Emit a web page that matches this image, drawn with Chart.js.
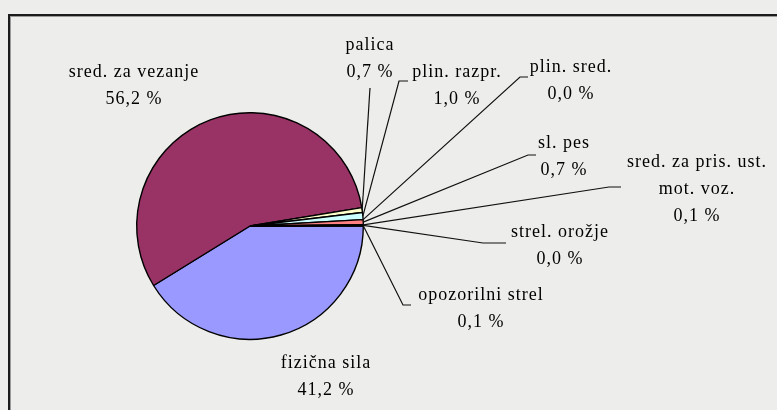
<!DOCTYPE html>
<html>
<head>
<meta charset="utf-8">
<script src="https://cdn.jsdelivr.net/npm/chart.js@4"></script>
<style>
  html, body { margin: 0; padding: 0; background: #ededeb; overflow: hidden; }
  #frame {
    position: absolute; left: 8px; top: 14px; width: 800px; height: 420px;
    border-top: 2px solid #1b1b1b; border-left: 2px solid #1b1b1b;
    box-shadow: inset 1px 1px 0 #9a9a9a;
  }
  #chart { position: absolute; left: 0; top: 0; }
</style>
</head>
<body>
<div id="frame"></div>
<canvas id="chart" width="777" height="410"></canvas>
<script>
/* ── Data ─────────────────────────────────────────────────────────────────── */
const CATEGORIES = [
  ['fizična sila'],
  ['sred. za vezanje'],
  ['palica'],
  ['plin. razpr.'],
  ['plin. sred.'],
  ['sl. pes'],
  ['sred. za pris. ust.', 'mot. voz.'],
  ['strel. orožje'],
  ['opozorilni strel'],
];
const SHARES = [41.2, 56.2, 0.7, 1.0, 0.0, 0.7, 0.1, 0.0, 0.1];

/* Excel-style default pie palette */
const COLORS = ['#9999ff', '#993366', '#ffffcc', '#ccffff', '#660066', '#ff8080', '#0066cc', '#ccccff', '#000080'];

/* Label layout: text centre x, first line y, optional leader (elbow, end) */
const LABEL_LAYOUT = [
  { x: 326, y: 363 },
  { x: 134, y: 72 },
  { x: 370, y: 45, lead: [[370, 88]] },
  { x: 457, y: 72, lead: [[399, 81], [408, 81]] },
  { x: 571, y: 67, lead: [[520, 77], [528, 77]] },
  { x: 564, y: 143, lead: [[528, 155], [536, 155]] },
  { x: 697, y: 162, lead: [[609, 187], [621, 187]] },
  { x: 560, y: 232, lead: [[483, 243], [506, 243]] },
  { x: 481, y: 295, lead: [[403, 305], [411, 305]] },
];

const fmtPct = v => v.toFixed(1).replace('.', ',') + ' %';

/* ── Labels + leader lines ─────────────────────────────────────────────────── */
const pieLabels = {
  id: 'pieLabels',
  afterDraw(chart) {
    const ctx = chart.ctx;
    const arcs = chart.getDatasetMeta(0).data;
    ctx.save();
    ctx.strokeStyle = '#111';
    ctx.lineWidth = 1.2;
    arcs.forEach((arc, i) => {
      const lay = LABEL_LAYOUT[i];
      if (!lay.lead) return;
      const { x, y, startAngle, endAngle, outerRadius } = arc.getProps(['x', 'y', 'startAngle', 'endAngle', 'outerRadius'], true);
      const mid = (startAngle + endAngle) / 2;
      ctx.beginPath();
      ctx.moveTo(x + Math.cos(mid) * outerRadius, y + Math.sin(mid) * outerRadius);
      lay.lead.forEach(p => ctx.lineTo(p[0], p[1]));
      ctx.stroke();
    });

    ctx.fillStyle = '#000';
    ctx.font = '18px "Liberation Serif", "Times New Roman", serif';
    ctx.textAlign = 'center';
    ctx.textBaseline = 'middle';
    if ('letterSpacing' in ctx) ctx.letterSpacing = '1px';
    CATEGORIES.forEach((lines, i) => {
      const lay = LABEL_LAYOUT[i];
      const all = [...lines, fmtPct(SHARES[i])];
      all.forEach((t, k) => ctx.fillText(t, lay.x, lay.y + k * 27));
    });
    ctx.restore();
  },
};

new Chart(document.getElementById('chart'), {
  type: 'pie',
  data: {
    labels: CATEGORIES.map(l => l.join(' ')),
    datasets: [{
      data: SHARES,
      backgroundColor: COLORS,
      borderColor: '#000',
      borderWidth: 1.4,
    }],
  },
  options: {
    responsive: false,
    animation: false,
    rotation: 90,
    layout: { padding: { left: 136, right: 413, top: 112, bottom: 70 } },
    plugins: {
      legend: { display: false },
      tooltip: { enabled: false },
    },
  },
  plugins: [pieLabels],
});
</script>
</body>
</html>
